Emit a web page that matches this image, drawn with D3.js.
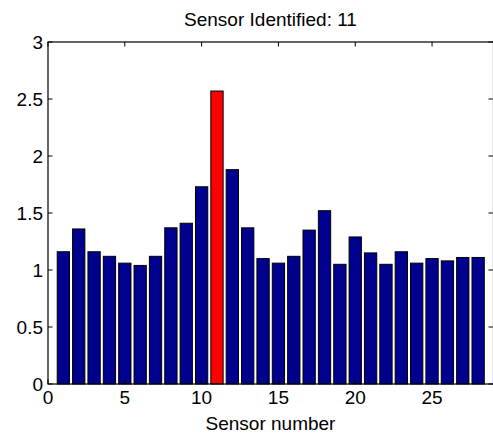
<!DOCTYPE html>
<html>
<head>
<meta charset="utf-8">
<script src="https://cdn.jsdelivr.net/npm/d3@7"></script>
<style>
  body { margin: 0; background: #fff; }
  svg text { font-family: "Liberation Sans", Arial, Helvetica, sans-serif; fill: #000; }
</style>
</head>
<body>
<div class="chart"></div>
<script>
// data
const sensors = d3.range(1, 29);
const values = [1.16, 1.36, 1.16, 1.12, 1.06, 1.04, 1.12, 1.37, 1.41, 1.73,
  2.57, 1.88, 1.37, 1.10, 1.06, 1.12, 1.35, 1.52, 1.05, 1.29,
  1.15, 1.05, 1.16, 1.06, 1.10, 1.08, 1.11, 1.11];
const identified = 11;
const xTicks = [0, 5, 10, 15, 20, 25];
const yTicks = [0, 0.5, 1, 1.5, 2, 2.5, 3];
const titleText = "Sensor Identified: " + identified;
const xLabelText = "Sensor number";

const W = 493, H = 437;
const m = { left: 48, right: 493.5, top: 42, bottom: 384 };
const fs = 19;
const tickLen = 4.5;

const svg = d3.select('.chart').append('svg')
  .attr('width', W).attr('height', H);

const x = d3.scaleLinear().domain([0, 29]).range([m.left, m.right]);
const y = d3.scaleLinear().domain([0, 3]).range([m.bottom, m.top]);
const bw = x(0.8) - x(0);

// bars
svg.append('g').selectAll('rect')
  .data(sensors)
  .join('rect')
  .attr('x', (d) => x(d) - bw / 2)
  .attr('y', (d, i) => y(values[i]))
  .attr('width', bw)
  .attr('height', (d, i) => y(0) - y(values[i]))
  .attr('fill', (d) => d === identified ? '#ff0000' : '#00008f')
  .attr('stroke', '#000')
  .attr('stroke-width', 1);

// frame
svg.append('rect')
  .attr('x', m.left).attr('y', m.top)
  .attr('width', m.right - m.left).attr('height', m.bottom - m.top)
  .attr('fill', 'none').attr('stroke', '#000').attr('stroke-width', 1.2);

// ticks inward on all four sides
const tk = svg.append('g').attr('stroke', '#000').attr('stroke-width', 1);
xTicks.forEach((t) => {
  tk.append('line').attr('x1', x(t)).attr('x2', x(t)).attr('y1', m.bottom).attr('y2', m.bottom - tickLen);
  tk.append('line').attr('x1', x(t)).attr('x2', x(t)).attr('y1', m.top).attr('y2', m.top + tickLen);
});
yTicks.forEach((t) => {
  tk.append('line').attr('x1', m.left).attr('x2', m.left + tickLen).attr('y1', y(t)).attr('y2', y(t));
  tk.append('line').attr('x1', 493).attr('x2', 493 - tickLen).attr('y1', y(t)).attr('y2', y(t));
});

// tick labels
svg.append('g').selectAll('text')
  .data(xTicks)
  .join('text')
  .attr('x', (d) => x(d))
  .attr('y', 404)
  .attr('text-anchor', 'middle')
  .style('font-size', fs + 'px')
  .text((d) => d);

svg.append('g').selectAll('text')
  .data(yTicks)
  .join('text')
  .attr('x', m.left - 5)
  .attr('y', (d) => y(d) + 7)
  .attr('text-anchor', 'end')
  .style('font-size', fs + 'px')
  .text((d) => d);

// title and axis label
svg.append('text')
  .attr('x', (m.left + 493) / 2).attr('y', 26)
  .attr('text-anchor', 'middle')
  .style('font-size', fs + 'px')
  .text(titleText);

svg.append('text')
  .attr('x', (m.left + 493) / 2).attr('y', 430)
  .attr('text-anchor', 'middle')
  .style('font-size', fs + 'px')
  .text(xLabelText);
</script>
</body>
</html>
